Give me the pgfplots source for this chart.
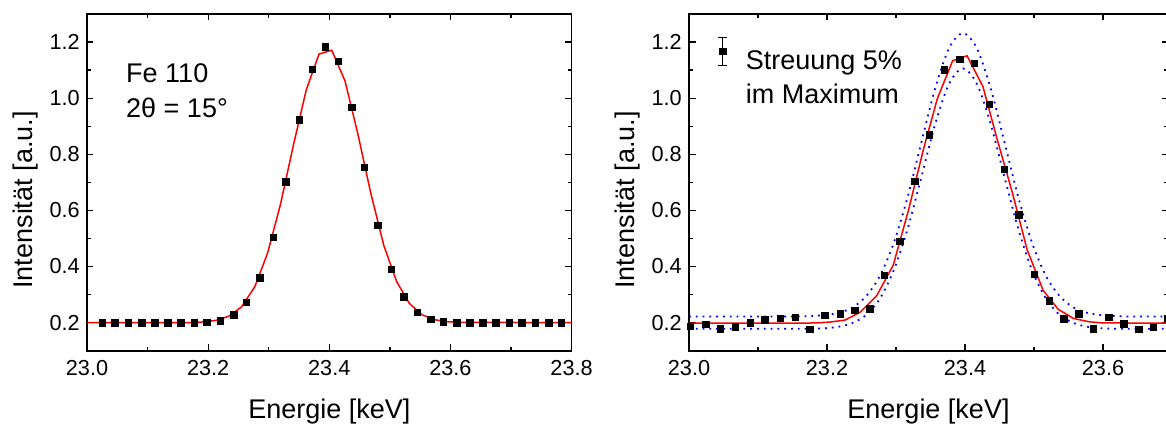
\documentclass[border=0pt]{standalone}
\usepackage{fontspec}
\setmainfont{Liberation Sans}
\usepackage{pgfplots}
\pgfplotsset{compat=1.18}
\definecolor{fitred}{RGB}{255,0,0}
\definecolor{bandblue}{RGB}{0,0,255}
\pgfplotsset{
  common/.style={
    scale only axis, anchor=south west, height=336.7pt,
    ymin=0.1, ymax=1.3,
    minor x tick num=1,
    ytick={0.2,0.4,0.6,0.8,1.0,1.2}, minor y tick num=1,
    tick align=inside, major tick length=6.5pt, minor tick length=4pt,
    xtick pos=both, ytick pos=both, xticklabel pos=lower, yticklabel pos=left,
    every tick/.style={black, line width=1.3pt},
    axis line style={line width=1.6pt},
    /pgf/number format/assume math mode=true,
    tick label style={font=\fontsize{21.7}{26}\selectfont},
    xticklabel style={anchor=north, inner sep=0pt, yshift=-9.3pt,
      /pgf/number format/fixed, /pgf/number format/fixed zerofill, /pgf/number format/precision=1},
    yticklabel style={anchor=east, inner sep=0pt, xshift=-7pt,
      /pgf/number format/fixed, /pgf/number format/fixed zerofill, /pgf/number format/precision=1},
    xlabel={Energie [keV]},
    ylabel={Intensität [a.u.]},
    every axis x label/.style={at={(rel axis cs:0.5,-0.1999)}, anchor=base, inner sep=0pt, font=\fontsize{27}{32}\selectfont},
    every axis y label/.style={at={(rel axis cs:-0.1125,0.4476)}, rotate=90, anchor=base, inner sep=0pt, font=\fontsize{27}{32}\selectfont},
    datapts/.style={only marks, mark=square*, mark size=3.25pt, black, mark options={draw=black, fill=black}},
    fitline/.style={fitred, line width=1.5pt, mark=none},
    band/.style={bandblue, line width=1.8pt, dash pattern=on 1.8pt off 5pt, smooth, mark=none},
  }
}
\begin{document}
\begin{tikzpicture}
\useasboundingbox (0,0) rectangle (1166pt,423pt);
% ---------------- left panel ----------------
\begin{axis}[common, at={(87pt,72.3pt)}, width=484.6pt,
  xmin=23.0, xmax=23.8, xtick={23.0,23.2,23.4,23.6,23.8}]
\addplot[datapts, forget plot] coordinates {
(23.025,0.200) (23.046,0.200) (23.068,0.200) (23.090,0.200) (23.112,0.200)
(23.133,0.200) (23.155,0.200) (23.177,0.200) (23.198,0.202) (23.220,0.207)
(23.242,0.228) (23.263,0.272) (23.285,0.360) (23.307,0.504) (23.328,0.703)
(23.350,0.923) (23.372,1.104) (23.393,1.184) (23.415,1.131) (23.437,0.968)
(23.458,0.754) (23.480,0.547) (23.502,0.390) (23.523,0.293) (23.545,0.238)
(23.567,0.212) (23.588,0.204) (23.610,0.200) (23.632,0.200) (23.653,0.200)
(23.675,0.200) (23.697,0.200) (23.718,0.200) (23.740,0.200) (23.762,0.200)
(23.783,0.200)};
\addplot[fitline, forget plot] coordinates {
(23.000,0.200) (23.170,0.200) (23.192,0.2025) (23.213,0.208) (23.234,0.2226)
(23.255,0.256) (23.277,0.328) (23.298,0.447) (23.319,0.618) (23.341,0.835)
(23.362,1.030) (23.383,1.157) (23.404,1.171) (23.426,1.061) (23.447,0.874)
(23.468,0.666) (23.490,0.475) (23.511,0.347) (23.532,0.269) (23.553,0.228)
(23.575,0.210) (23.596,0.203) (23.617,0.201) (23.800,0.200)};
\node[anchor=base west, font=\fontsize{27}{32}\selectfont, inner sep=0pt] at (rel axis cs:0.0805,0.796) {Fe 110};
\node[anchor=base west, font=\fontsize{27}{32}\selectfont, inner sep=0pt] at (rel axis cs:0.0805,0.6932) {2θ = 15°};
\end{axis}
% ---------------- right panel ----------------
\begin{axis}[common, at={(689pt,72.3pt)}, width=479pt,
  xmin=23.0, xmax=23.6942, xtick={23.0,23.2,23.4,23.6},
  ylabel style={at={(rel axis cs:-0.1148,0.4476)}},
  legend style={at={(rel axis cs:0.0591,0.9317)}, anchor=north west, draw=none, fill=none,
    inner sep=0pt, outer sep=0pt, font=\fontsize{27}{32}\selectfont, row sep=13pt,
    nodes={inner sep=0pt},
    /tikz/every odd column/.append style={column sep=18pt}},
  legend cell align=left]
\addlegendimage{legend image code/.code={
  \draw[black, line width=1pt] (5pt,-4.4pt) -- (5pt,23.6pt);
  \draw[black, line width=1pt] (0.2pt,-4.4pt) -- (9.8pt,-4.4pt);
  \draw[black, line width=1pt] (0.2pt,23.6pt) -- (9.8pt,23.6pt);
  \fill[black] (1.8pt,6.4pt) rectangle (8.2pt,12.8pt);
}}
\addlegendentry{Streuung 5\%}
\addlegendimage{empty legend}
\addlegendentry{im Maximum}
\addplot[datapts, forget plot] coordinates {
(23.002,0.188) (23.024,0.194) (23.045,0.179) (23.067,0.185) (23.089,0.200)
(23.110,0.210) (23.132,0.215) (23.154,0.219) (23.175,0.176) (23.197,0.226)
(23.219,0.232) (23.240,0.244) (23.262,0.250) (23.283,0.369) (23.305,0.490)
(23.327,0.704) (23.348,0.869) (23.370,1.101) (23.392,1.139) (23.413,1.125)
(23.435,0.979) (23.457,0.747) (23.478,0.585) (23.500,0.372) (23.522,0.278)
(23.543,0.214) (23.565,0.232) (23.586,0.179) (23.608,0.220) (23.630,0.196)
(23.652,0.176) (23.673,0.183) (23.694,0.216)};
\addplot[fitline, forget plot] coordinates {
(23.000,0.198) (23.160,0.198) (23.183,0.199) (23.204,0.202) (23.226,0.209)
(23.248,0.237) (23.272,0.296) (23.296,0.405) (23.318,0.600) (23.340,0.820)
(23.360,0.999) (23.382,1.133) (23.403,1.151) (23.426,1.041) (23.447,0.850)
(23.469,0.660) (23.490,0.460) (23.513,0.316) (23.535,0.2475) (23.557,0.215)
(23.580,0.203) (23.600,0.199) (23.6942,0.198)};
\addplot[band, forget plot] coordinates {
(23.000,0.222) (23.100,0.222) (23.157,0.222) (23.177,0.2235) (23.197,0.227)
(23.217,0.235) (23.237,0.254) (23.257,0.295) (23.277,0.368) (23.297,0.486)
(23.317,0.649) (23.337,0.845) (23.357,1.037) (23.377,1.179) (23.397,1.232)
(23.417,1.179) (23.437,1.037) (23.457,0.845) (23.477,0.649) (23.497,0.486)
(23.517,0.368) (23.537,0.295) (23.557,0.254) (23.577,0.235) (23.597,0.227)
(23.617,0.2235) (23.637,0.222) (23.694,0.222)};
\addplot[band, forget plot] coordinates {
(23.000,0.178) (23.100,0.178) (23.177,0.1785) (23.197,0.180) (23.217,0.1855)
(23.237,0.199) (23.257,0.228) (23.277,0.287) (23.297,0.388) (23.317,0.536)
(23.337,0.721) (23.357,0.910) (23.377,1.052) (23.397,1.106) (23.417,1.052)
(23.437,0.910) (23.457,0.721) (23.477,0.536) (23.497,0.388) (23.517,0.287)
(23.537,0.228) (23.557,0.199) (23.577,0.1855) (23.597,0.180) (23.617,0.1785)
(23.694,0.178)};
\end{axis}
\end{tikzpicture}
\end{document}
